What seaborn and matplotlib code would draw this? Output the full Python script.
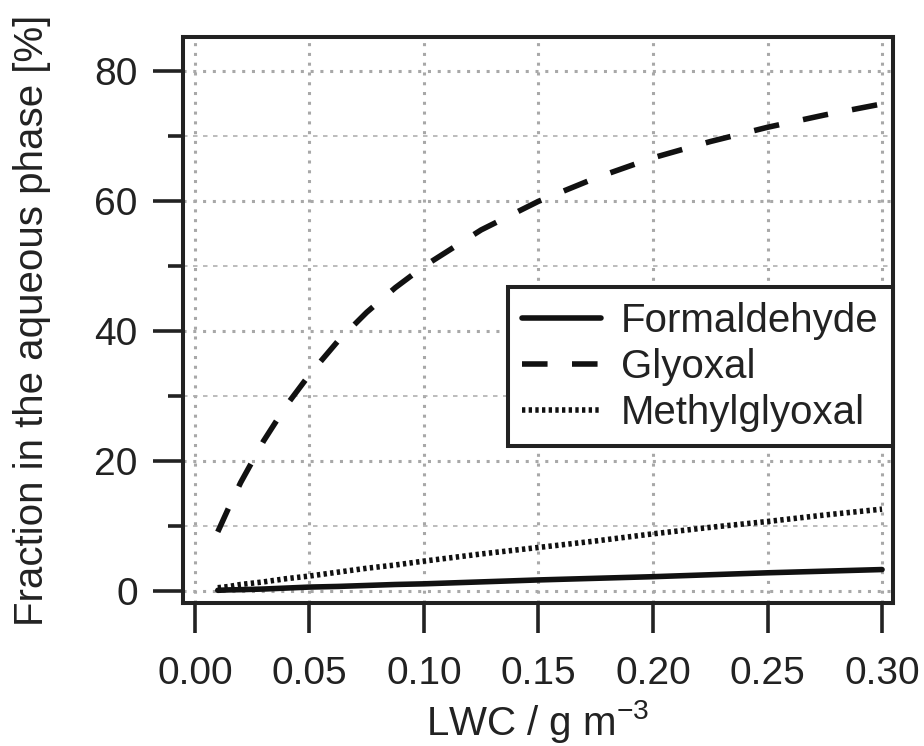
import numpy as np
import pandas as pd
import matplotlib
matplotlib.use('Agg')
import matplotlib.pyplot as plt
import seaborn as sns
from matplotlib.ticker import MultipleLocator, FormatStrFormatter

# values
lwc = [0.01, 0.015, 0.02, 0.03, 0.04, 0.05, 0.0625, 0.075, 0.0875, 0.10,
       0.125, 0.15, 0.175, 0.20, 0.225, 0.25, 0.275, 0.30]
formaldehyde = [0.1, 0.17, 0.2, 0.3, 0.45, 0.6, 0.7, 0.85, 1.0, 1.1,
                1.4, 1.7, 1.95, 2.2, 2.5, 2.8, 3.05, 3.3]
glyoxal = [9.1, 13.0, 16.7, 23.1, 28.6, 33.3, 38.5, 42.9, 46.7, 50.0,
           55.6, 60.0, 63.6, 66.7, 69.2, 71.4, 73.3, 75.0]
methylglyoxal = [0.5, 0.7, 1.0, 1.4, 1.9, 2.3, 2.9, 3.5, 4.0, 4.6,
                 5.7, 6.7, 7.7, 8.8, 9.8, 10.7, 11.7, 12.6]

sns.set_style('white')
plt.rcParams['font.family'] = ['Liberation Sans', 'DejaVu Sans']
plt.rcParams['mathtext.default'] = 'regular'

ink = '#222222'
fs = 28

fig = plt.figure(figsize=(9.24, 7.46), dpi=100)
ax = fig.add_axes([0.198, 0.1917, 0.7685, 0.7587])

lw = 4.0
sns.lineplot(x=lwc, y=formaldehyde, ax=ax, color='#111111', linewidth=lw,
             linestyle='-', label='Formaldehyde')
sns.lineplot(x=lwc, y=glyoxal, ax=ax, color='#111111', linewidth=lw,
             linestyle=(0, (4.6, 4.4)), label='Glyoxal')
sns.lineplot(x=lwc, y=methylglyoxal, ax=ax, color='#111111', linewidth=lw,
             linestyle=(0, (0.6, 0.6)), label='Methylglyoxal')

ax.set_xlim(-0.0052, 0.3048)
ax.set_ylim(-1.85, 85.3)
ax.xaxis.set_major_locator(MultipleLocator(0.05))
ax.yaxis.set_major_locator(MultipleLocator(20))
ax.yaxis.set_minor_locator(MultipleLocator(10))
ax.xaxis.set_major_formatter(FormatStrFormatter('%.2f'))

ax.grid(True, which='major', color='#a8a8a8', lw=2.2, linestyle=(0, (1, 2.2)))
ax.grid(True, which='minor', axis='y', color='#b0b0b0', lw=1.2, linestyle=(0, (2.7, 3.3)))
ax.set_axisbelow(True)

for s in ax.spines.values():
    s.set_visible(True)
    s.set_color(ink)
    s.set_linewidth(2.9)

ax.tick_params(which='major', direction='out', length=21.5, width=2.6,
               color=ink, labelsize=fs, labelcolor=ink)
ax.tick_params(axis='x', pad=17, bottom=True)
ax.tick_params(axis='y', pad=11, left=True)
ax.tick_params(axis='y', which='minor', direction='out', length=10.8,
               width=2.6, color=ink, left=True)

ax.set_xlabel('LWC / g m$^{-3}$', fontsize=29, color=ink, labelpad=4)
ax.set_ylabel('Fraction in the aqueous phase [%]', fontsize=29, color=ink, labelpad=31)

leg = ax.legend(loc='upper right', bbox_to_anchor=(1.0, 0.558), borderaxespad=0,
                fontsize=29, frameon=True, fancybox=False, handlelength=1.95,
                handletextpad=0.5, labelspacing=0.2, borderpad=0.36)
leg.get_frame().set_edgecolor(ink)
leg.get_frame().set_linewidth(2.9)
leg.get_frame().set_alpha(1)
for t in leg.get_texts():
    t.set_color(ink)

fig.savefig('out.png', dpi=100)
